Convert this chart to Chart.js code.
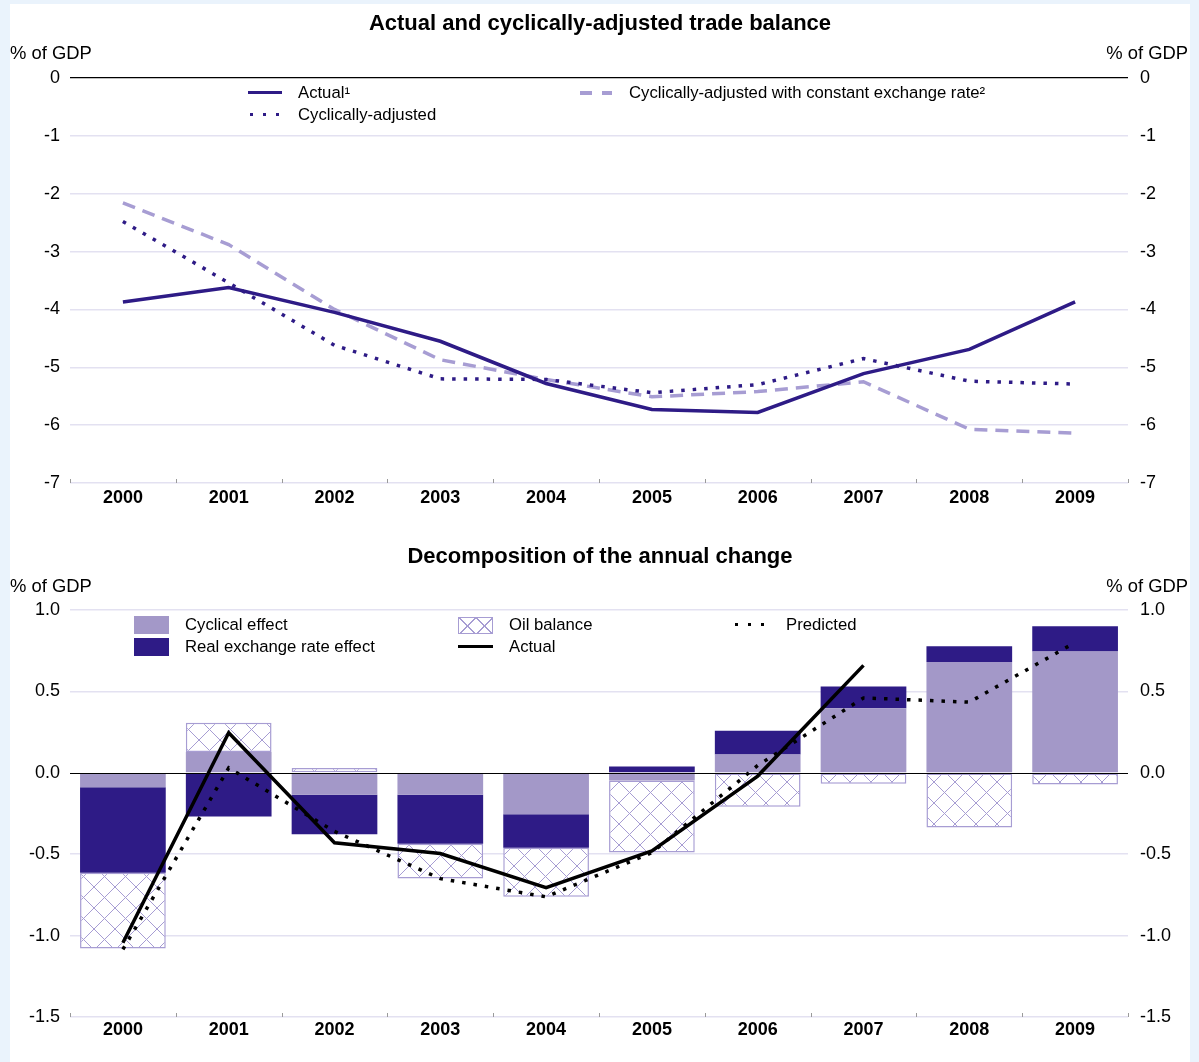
<!DOCTYPE html>
<html>
<head>
<meta charset="utf-8">
<script src="https://cdn.jsdelivr.net/npm/chart.js@4.4.1/dist/chart.umd.min.js"></script>
<style>
  html, body { margin: 0; padding: 0; }
  body { width: 1199px; height: 1062px; background: #eaf3fc; position: relative; overflow: hidden; font-family: "Liberation Sans", Arial, sans-serif; color: #000; }
  #panel { position: absolute; left: 10px; top: 4px; width: 1180px; height: 1058px; background: #fff; }
  .box { position: absolute; left: 0; width: 1180px; }
  #box1 { top: 0; height: 526px; }
  #box2 { top: 526px; height: 532px; }
  canvas { display: block; }
  .title { position: absolute; left: 0; width: 1180px; text-align: center; font-weight: bold; font-size: 22px; line-height: 26px; }
  .unit { position: absolute; font-size: 18.4px; line-height: 20px; white-space: nowrap; }
  .txt { position: absolute; font-size: 16.7px; line-height: 18px; white-space: nowrap; }
  .mark { position: absolute; }
  .hatch {
    box-sizing: border-box; border: 1px solid #a79dd3; background-color: #fff;
    background-image: linear-gradient(45deg, transparent 47%, #a79dd3 47%, #a79dd3 53%, transparent 53%),
                      linear-gradient(-45deg, transparent 47%, #a79dd3 47%, #a79dd3 53%, transparent 53%);
    background-size: 17px 16px;
  }
</style>
</head>
<body>
<div id="panel">
  <div class="box" id="box1"><canvas id="chart1" width="1180" height="526"></canvas></div>
  <div class="box" id="box2"><canvas id="chart2" width="1180" height="532"></canvas></div>

  <div class="title" style="top:6px">Actual and cyclically-adjusted trade balance</div>
  <div class="unit" style="left:0;top:39px">% of GDP</div>
  <div class="unit" style="right:2px;top:39px">% of GDP</div>

  <div class="mark" style="left:238px;top:87px;width:34px;height:3px;background:#2e1b86"></div>
  <div class="txt" style="left:288px;top:80px">Actual¹</div>
  <div class="mark" style="left:240px;top:109px;width:29px;height:3px;background:repeating-linear-gradient(to right,#2e1b86 0 3px,transparent 3px 13px)"></div>
  <div class="txt" style="left:288px;top:102px">Cyclically-adjusted</div>
  <div class="mark" style="left:570px;top:87px;width:32px;height:4px;background:repeating-linear-gradient(to right,#a79dd3 0 12px,transparent 12px 22px)"></div>
  <div class="txt" style="left:619px;top:80px">Cyclically-adjusted with constant exchange rate²</div>

  <div class="title" style="top:539px">Decomposition of the annual change</div>
  <div class="unit" style="left:0;top:572px">% of GDP</div>
  <div class="unit" style="right:2px;top:572px">% of GDP</div>

  <div class="mark" style="left:124px;top:612px;width:35px;height:18px;background:#a398c8"></div>
  <div class="txt" style="left:175px;top:612px">Cyclical effect</div>
  <div class="mark" style="left:124px;top:634px;width:35px;height:18px;background:#2e1b86"></div>
  <div class="txt" style="left:175px;top:634px">Real exchange rate effect</div>
  <div class="mark hatch" style="left:448px;top:613px;width:35px;height:17px"></div>
  <div class="txt" style="left:499px;top:612px">Oil balance</div>
  <div class="mark" style="left:448px;top:641px;width:35px;height:3px;background:#000"></div>
  <div class="txt" style="left:499px;top:634px">Actual</div>
  <div class="mark" style="left:725px;top:619px;width:29px;height:3px;background:repeating-linear-gradient(to right,#000 0 3px,transparent 3px 13px)"></div>
  <div class="txt" style="left:776px;top:612px">Predicted</div>
</div>

<script>
// categories
const years = ['2000', '2001', '2002', '2003', '2004', '2005', '2006', '2007', '2008', '2009']

// top panel: trade balance, % of GDP
const actualBalance = [-3.87, -3.62, -4.05, -4.55, -5.28, -5.73, -5.78, -5.11, -4.69, -3.87]
const cyclicallyAdjusted = [-2.48, -3.54, -4.62, -5.20, -5.21, -5.44, -5.30, -4.85, -5.24, -5.29]
const constantExchangeRate = [-2.16, -2.88, -4.00, -4.87, -5.21, -5.51, -5.42, -5.25, -6.07, -6.14]
const topTicks = [0, -1, -2, -3, -4, -5, -6, -7]

// bottom panel: decomposition of the annual change
const cyclicalEffect = [-0.088, 0.127, -0.135, -0.135, -0.254, -0.047, 0.112, 0.397, 0.68, 0.745]
const realExchangeEffect = [-0.526, -0.268, -0.242, -0.301, -0.207, 0.039, 0.146, 0.133, 0.097, 0.155]
const oilBalance = [-0.466, 0.18, 0.03, -0.213, -0.301, -0.443, -0.209, -0.068, -0.336, -0.072]
const actualChange = [-1.044, 0.246, -0.43, -0.496, -0.706, -0.48, -0.02, 0.66, null, null]
const predictedChange = [-1.085, 0.03, -0.36, -0.65, -0.762, -0.49, 0.045, 0.46, 0.434, 0.80]
const bottomTicks = [1.0, 0.5, 0.0, -0.5, -1.0, -1.5]

const navy = '#2e1b86'
const lavender = '#a398c8'
const dashLavender = '#a79dd3'
const gridColor = '#e3e1f1'
const font = '"Liberation Sans", Arial, sans-serif'

// crosshatch pattern for the oil bars
const makeHatch = () => {
    const size = 21
    const c = document.createElement('canvas')
    c.width = size
    c.height = size
    const g = c.getContext('2d')
    g.fillStyle = '#fff'
    g.fillRect(0, 0, size, size)
    g.strokeStyle = dashLavender
    g.lineWidth = 1
    g.beginPath()
    g.moveTo(0, 0); g.lineTo(size, size)
    g.moveTo(size, 0); g.lineTo(0, size)
    g.stroke()
    return g.createPattern(c, 'repeat')
}

// small upward tick marks at category boundaries
const boundaryTicks = {
    id: 'boundaryTicks',
    afterDraw(chart) {
        const { ctx, chartArea } = chart
        const n = years.length
        ctx.save()
        ctx.strokeStyle = '#9a9a9a'
        ctx.lineWidth = 1
        ctx.beginPath()
        for (let i = 0; i <= n; i++) {
            const x = Math.round(chartArea.left + i * chartArea.width / n) + 0.5
            ctx.moveTo(x, chartArea.bottom - 4)
            ctx.lineTo(x, chartArea.bottom)
        }
        ctx.stroke()
        ctx.restore()
    }
}

// black zero line over the bars, below the lines
const zeroLine = {
    id: 'zeroLine',
    afterDatasetDraw(chart, args) {
        if (args.index !== 0) return
        const { ctx, chartArea, scales } = chart
        const y = Math.round(scales.y.getPixelForValue(0)) + 0.5
        ctx.save()
        ctx.strokeStyle = '#000'
        ctx.lineWidth = 1.2
        ctx.beginPath()
        ctx.moveTo(chartArea.left, y)
        ctx.lineTo(chartArea.right, y)
        ctx.stroke()
        ctx.restore()
    }
}

const yAxes = (ticks, fmt, zeroBlack, stacked) => {
    const setTicks = s => { s.ticks = ticks.map(v => ({ value: v })) }
    const base = {
        min: Math.min(...ticks),
        max: Math.max(...ticks),
        afterBuildTicks: setTicks,
        border: { display: false },
        ticks: { font: { family: font, size: 18 }, color: '#000', callback: fmt }
    }
    return {
        y: {
            ...base,
            position: 'left',
            stacked: stacked,
            afterFit: s => { s.width = 60 },
            grid: {
                drawTicks: false,
                color: c => (c.tick && c.tick.value === 0) ? (zeroBlack ? '#000' : 'rgba(0,0,0,0)') : gridColor,
                lineWidth: c => (c.tick && c.tick.value === 0) ? 1.2 : 1.5
            },
            ticks: { ...base.ticks, padding: 10 }
        },
        y2: {
            ...base,
            position: 'right',
            afterFit: s => { s.width = 62 },
            grid: { display: false, drawTicks: false },
            ticks: { ...base.ticks, padding: 12 }
        }
    }
}

const xAxis = (stacked, pad) => ({
    type: 'category',
    offset: true,
    stacked: stacked,
    afterFit: s => { s.height = 40 },
    border: { display: false },
    grid: { display: false, drawTicks: false },
    ticks: { font: { family: font, size: 18, weight: 'bold' }, color: '#000', padding: pad, maxRotation: 0 }
})

const commonOptions = {
    responsive: false,
    animation: false,
    events: [],
    plugins: { legend: { display: false }, tooltip: { enabled: false }, title: { display: false } }
}

// top chart
new Chart(document.getElementById('chart1').getContext('2d'), {
    type: 'line',
    data: {
        labels: years,
        datasets: [
            { label: 'Actual¹', data: actualBalance, borderColor: navy, borderWidth: 3.5, pointRadius: 0, tension: 0 },
            { label: 'Cyclically-adjusted', data: cyclicallyAdjusted, borderColor: navy, borderWidth: 3.5, borderDash: [3.5, 8], pointRadius: 0, tension: 0 },
            { label: 'Cyclically-adjusted with constant exchange rate²', data: constantExchangeRate, borderColor: dashLavender, borderWidth: 3.5, borderDash: [13, 8], pointRadius: 0, tension: 0 }
        ]
    },
    options: {
        ...commonOptions,
        layout: { padding: { top: 74, bottom: 7, left: 0, right: 0 } },
        scales: {
            x: xAxis(false, 4),
            ...yAxes(topTicks, v => String(v), true, false)
        }
    },
    plugins: [boundaryTicks]
})

// bottom chart
const hatch = makeHatch()
new Chart(document.getElementById('chart2').getContext('2d'), {
    type: 'bar',
    data: {
        labels: years,
        datasets: [
            { label: 'Cyclical effect', data: cyclicalEffect, backgroundColor: lavender, borderWidth: 0, order: 2, stack: 'bars' },
            { label: 'Real exchange rate effect', data: realExchangeEffect, backgroundColor: navy, borderWidth: 0, order: 2, stack: 'bars' },
            { label: 'Oil balance', data: oilBalance, backgroundColor: hatch, borderColor: dashLavender, borderWidth: 1.5, borderSkipped: false, order: 2, stack: 'bars' },
            { type: 'line', label: 'Actual', data: actualChange, borderColor: '#000', borderWidth: 3.5, pointRadius: 0, tension: 0, order: 1, stack: 'actual' },
            { type: 'line', label: 'Predicted', data: predictedChange, borderColor: '#000', borderWidth: 3.5, borderDash: [3.5, 8], pointRadius: 0, tension: 0, order: 1, stack: 'predicted' }
        ]
    },
    options: {
        ...commonOptions,
        datasets: { bar: { categoryPercentage: 0.81, barPercentage: 1 } },
        layout: { padding: { top: 80, bottom: 5, left: 0, right: 0 } },
        scales: {
            x: xAxis(true, 2),
            ...yAxes(bottomTicks, v => v.toFixed(1), false, true)
        }
    },
    plugins: [boundaryTicks, zeroLine]
})
</script>
</body>
</html>
